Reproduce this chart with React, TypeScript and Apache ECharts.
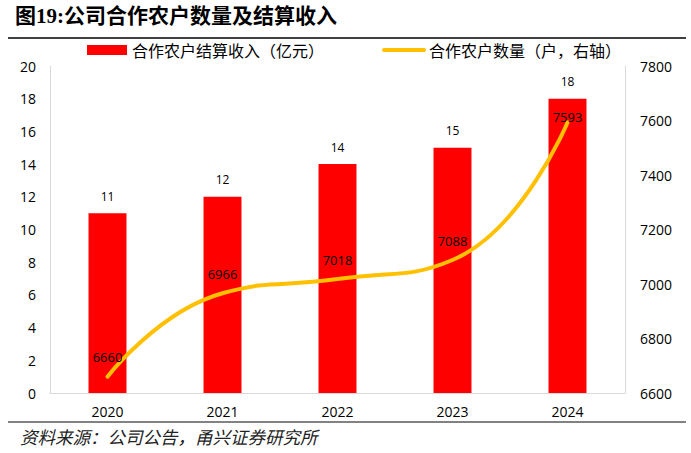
import { useEffect, useRef } from "react";
import * as echarts from "echarts";

const years = ["2020", "2021", "2022", "2023", "2024"];
const income = [11, 12, 14, 15, 18];
const households = [6660, 6966, 7018, 7088, 7593];

const barName = "合作农户结算收入（亿元）";
const lineName = "合作农户数量（户，右轴）";
const titleText = "图19:公司合作农户数量及结算收入";
const sourceText = "资料来源：公司公告，甬兴证券研究所";

const cnFont = '"Noto Sans CJK SC", sans-serif';
const numFont = '"Open Sans", "Noto Sans CJK SC", sans-serif';

export default function App() {
  const chartRef = useRef<HTMLDivElement>(null);

  useEffect(() => {
    if (!chartRef.current) return;
    const chart = echarts.init(chartRef.current, null, { renderer: "svg" });

    const option: echarts.EChartsOption = {
      animation: false,
      backgroundColor: "#fff",
      legend: {
        left: 82,
        top: 37,
        itemWidth: 40,
        itemHeight: 10,
        itemGap: 58,
        textStyle: { fontFamily: cnFont, fontSize: 16, color: "#000" },
        data: [
          { name: barName, icon: "rect" },
          {
            name: lineName,
            itemStyle: { opacity: 0 },
            lineStyle: { width: 4, color: "#FFC000", cap: "round" },
          },
        ],
      },
      grid: { left: 50, right: 66, top: 66, bottom: 60 },
      xAxis: {
        type: "category",
        data: years,
        axisLine: { lineStyle: { color: "#D9D9D9", width: 1 } },
        axisTick: { show: false },
        axisLabel: { color: "#000", fontFamily: numFont, fontSize: 14, margin: 11 },
      },
      yAxis: [
        {
          type: "value",
          min: 0,
          max: 20,
          interval: 2,
          axisLine: { show: true, lineStyle: { color: "#D9D9D9" } },
          axisTick: { show: false },
          splitLine: { show: false },
          axisLabel: { color: "#000", fontFamily: numFont, fontSize: 14, margin: 14 },
        },
        {
          type: "value",
          min: 6600,
          max: 7800,
          interval: 200,
          axisLine: { show: true, lineStyle: { color: "#D9D9D9" } },
          axisTick: { show: false },
          splitLine: { show: false },
          axisLabel: {
            color: "#000",
            fontFamily: numFont,
            fontSize: 14,
            margin: 15,
            formatter: (v: number) => String(v),
          },
        },
      ],
      series: [
        {
          name: barName,
          type: "bar",
          data: income,
          barWidth: "33%",
          itemStyle: { color: "#FF0000" },
          label: {
            show: true,
            position: "top",
            distance: 11,
            color: "#000",
            fontFamily: numFont,
            fontSize: 12,
          },
        },
        {
          name: lineName,
          type: "line",
          yAxisIndex: 1,
          smooth: 0.5,
          symbol: "circle",
          symbolSize: 0,
          showSymbol: true,
          data: households.map((v, i) =>
            i === households.length - 1
              ? { value: v, label: { offset: [0, 14] } }
              : { value: v }
          ),
          lineStyle: { color: "#FFC000", width: 4, cap: "round" },
          itemStyle: { color: "#FFC000" },
          z: 3,
          label: {
            show: true,
            position: "top",
            distance: 13,
            color: "#000",
            fontFamily: numFont,
            fontSize: 13,
          },
        },
      ],
      graphic: [
        {
          type: "text",
          left: 15,
          top: 5,
          style: {
            text: titleText,
            fontFamily: '"Liberation Serif", "Noto Sans CJK SC", serif',
            fontWeight: "bold",
            fontSize: 21,
            fill: "#000",
          },
        },
        {
          type: "line",
          shape: { x1: 8, y1: 38, x2: 686, y2: 38 },
          style: { stroke: "#000", lineWidth: 1.5 },
        },
        {
          type: "line",
          shape: { x1: 8, y1: 422, x2: 686, y2: 422 },
          style: { stroke: "#595959", lineWidth: 1.5 },
        },
        {
          type: "text",
          left: 20,
          top: 428,
          style: {
            text: sourceText,
            fontFamily: cnFont,
            fontStyle: "italic",
            fontSize: 17.5,
            fill: "#222",
          },
        },
      ],
    };

    chart.setOption(option);
    return () => chart.dispose();
  }, []);

  return (
    <div
      ref={chartRef}
      style={{ position: "fixed", left: 0, top: 0, width: 691, height: 453 }}
    />
  );
}
